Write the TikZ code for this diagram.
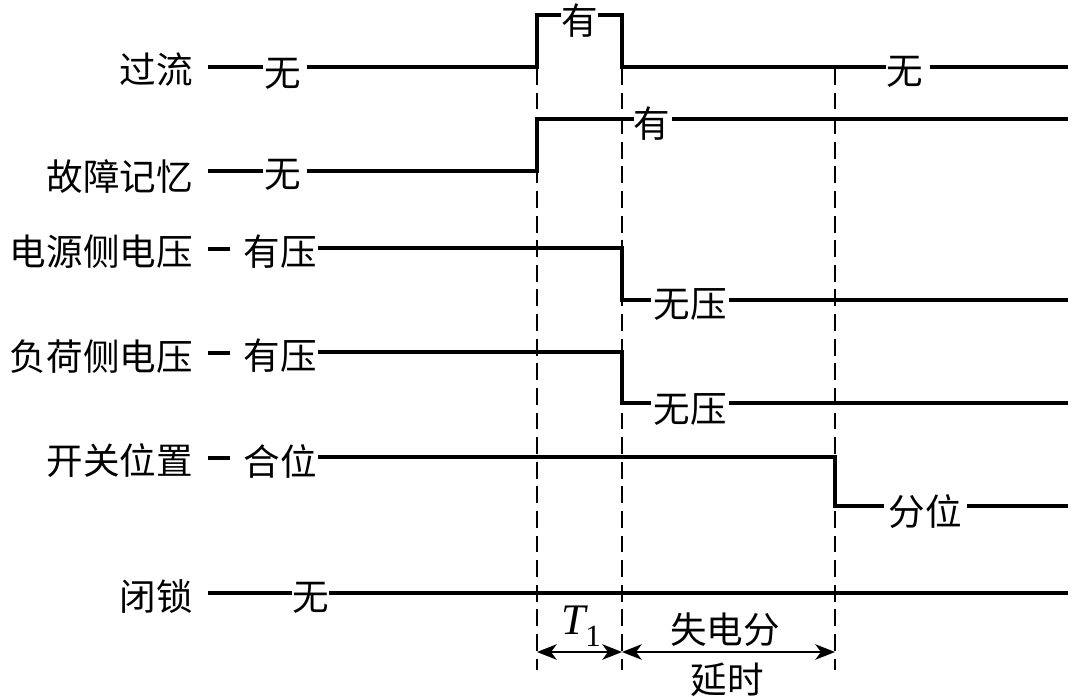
\documentclass[tikz,border=0pt]{standalone}
\usepackage{fontspec}
\setmainfont{Noto Sans CJK SC}
\newfontfamily\latinfont{Liberation Serif}
\usetikzlibrary{arrows.meta}
\begin{document}
\begin{tikzpicture}[x=0.025cm, y=-0.025cm, font=\fontsize{26}{30}\selectfont]
		\tikzstyle{sig}=[line width=2.2pt, line join=miter]
		\tikzstyle{guide}=[line width=1.8pt, dash pattern=on 12pt off 5.5pt]
		\tikzstyle{signame}=[anchor=east, inner sep=0pt]
		\tikzstyle{val}=[inner sep=0pt]
		\tikzstyle{span}=[{Stealth[length=14pt,width=11pt,inset=4pt]}-{Stealth[length=14pt,width=11pt,inset=4pt]}, line width=1.5pt]
		\def\ta{537} \def\tb{622} \def\tc{835}
		\useasboundingbox (0,0) rectangle (1080,697);
		% signal names
		\node[signame] (oc) at (193,70) {过流};
		\node[signame] (mem) at (193,177) {故障记忆};
		\node[signame] (src) at (193,252) {电源侧电压};
		\node[signame] (load) at (193,357) {负荷侧电压};
		\node[signame] (sw) at (193,461) {开关位置};
		\node[signame] (lock) at (193,597) {闭锁};
		% values
		\node[val] (oc1) at (283,74) {无};
		\node[val] (oc2) at (580,21) {有};
		\node[val] (oc3) at (905,72) {无};
		\node[val] (mem1) at (283,175) {无};
		\node[val] (mem2) at (652,124) {有};
		\node[val] (src1) at (280,252) {有压};
		\node[val] (src2) at (690,304) {无压};
		\node[val] (load1) at (280,356) {有压};
		\node[val] (load2) at (690,409) {无压};
		\node[val] (sw1) at (280,461) {合位};
		\node[val] (sw2) at (925,512) {分位};
		\node[val] (lock1) at (311,598) {无};
		% time marks
		\draw[guide] (\ta,68) -- (\ta,670);
		\draw[guide] (\tb,68) -- (\tb,670);
		\draw[guide] (\tc,68) -- (\tc,670);
		% waveforms
		\draw[sig] (208,67) -- (263,67) (307,67) -- (\ta,67) -- (\ta,15) -- (561,15)
		           (598,15) -- (\tb,15) -- (\tb,67) -- (886,67) (930,67) -- (1068,67);
		\draw[sig] (208,171) -- (263,171) (307,171) -- (\ta,171) -- (\ta,119) -- (634,119)
		           (672,119) -- (1068,119);
		\draw[sig] (208,249) -- (230,249) (318,248) -- (\tb,248) -- (\tb,300) -- (651,300)
		           (729,300) -- (1068,300);
		\draw[sig] (208,353) -- (230,353) (318,352) -- (\tb,352) -- (\tb,403) -- (651,403)
		           (729,403) -- (1068,403);
		\draw[sig] (208,458) -- (230,458) (318,457) -- (\tc,457) -- (\tc,506) -- (884,506)
		           (967,506) -- (1068,506);
		\draw[sig] (208,593) -- (292,593) (329,593) -- (1068,593);
		% delays
		\draw[span] (\ta,652) -- (\tb,652);
		\draw[span] (\tb,652) -- (\tc,652);
		\node[val] (t1) at (581,626) {\latinfont\fontsize{31}{32}\selectfont{\itshape T}\raisebox{-0.28em}{\fontsize{22}{24}\selectfont 1}};
		\node[val] (dly1) at (725,630) {失电分};
		\node[val] (dly2) at (727,680) {延时};
	\end{tikzpicture}
\end{document}
